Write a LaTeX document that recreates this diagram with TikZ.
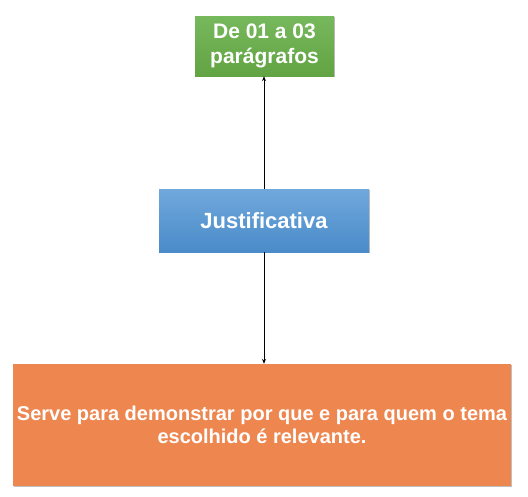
\documentclass[tikz,border=0pt]{standalone}
\usepackage{fontspec}
\setmainfont{Liberation Sans}
\usetikzlibrary{arrows.meta,shadows}
\definecolor{gtop}{RGB}{118,184,92}
\definecolor{gbot}{RGB}{98,164,67}
\definecolor{btop}{RGB}{112,168,220}
\definecolor{bbot}{RGB}{74,139,201}
\definecolor{orng}{RGB}{238,134,80}
\begin{document}
\begin{tikzpicture}[x=1pt,y=-1pt,
  boxbase/.style={draw=none,inner sep=0pt,align=center,text=white,font=\bfseries,
    drop shadow={shadow xshift=0.8pt,shadow yshift=-0.8pt,opacity=0.25,fill=black}},
  conn/.style={draw=black,line width=0.8pt,-{Stealth[length=5pt,width=4pt]}}
]
\useasboundingbox (0,0) rectangle (528,496);
\node[boxbase,top color=gtop,bottom color=gbot,minimum width=139pt,minimum height=60pt,
  font=\bfseries\fontsize{21}{25}\selectfont] (g) at (264.5,46) {De 01 a 03\\parágrafos};
\node[boxbase,top color=btop,bottom color=bbot,minimum width=210pt,minimum height=63pt,
  font=\bfseries\fontsize{22}{26}\selectfont] (b) at (264,220.5) {Justificativa};
\node[boxbase,fill=orng,minimum width=498pt,minimum height=122pt,
  font=\bfseries\fontsize{20}{23}\selectfont] (o) at (262,425) {Serve para demonstrar por que e para quem o tema\\escolhido é relevante.};
\draw[conn] (b.north -| 264,0) -- (g.south -| 264,0);
\draw[conn] (b.south -| 264,0) -- (o.north -| 264,0);
\end{tikzpicture}
\end{document}
